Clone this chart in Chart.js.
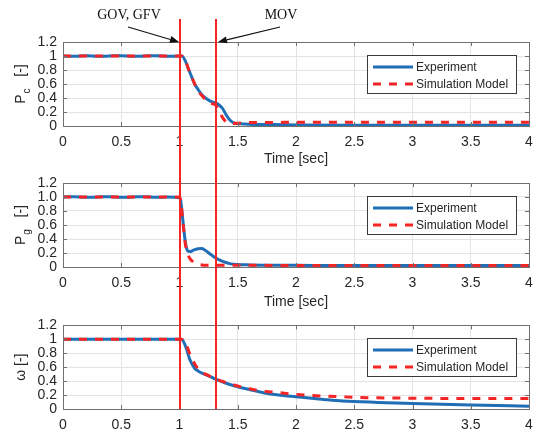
<!DOCTYPE html>
<html>
<head>
<meta charset="utf-8">
<script src="https://cdn.jsdelivr.net/npm/chart.js@4.4.1/dist/chart.umd.min.js"></script>
<style>
  body { margin: 0; background: #fff; }
  #wrap { position: relative; width: 537px; height: 435px; }
  canvas { position: absolute; left: 0; }
</style>
</head>
<body>
<div id="wrap">
  <canvas id="c1" width="537" height="168" style="top:0px"></canvas>
  <canvas id="c2" width="537" height="143" style="top:168px"></canvas>
  <canvas id="c3" width="537" height="124" style="top:311px"></canvas>
  <canvas id="overlay" width="537" height="435" style="top:0px"></canvas>
</div>
<script>
// ticks and labels
const xTicks = [0, 0.5, 1, 1.5, 2, 2.5, 3, 3.5, 4];
const yTicks = [0, 0.2, 0.4, 0.6, 0.8, 1.0, 1.2];
const seriesNames = ['Experiment', 'Simulation Model'];
const eventTimes = [1.0, 1.31];
const eventLabels = ['GOV, GFV', 'MOV'];

// P_c
const pcTime = [0, 0.1, 0.2, 0.3, 0.4, 0.5, 0.6, 0.7, 0.8, 0.9, 1.0, 1.02, 1.05, 1.08, 1.1, 1.13, 1.16, 1.2, 1.24, 1.28, 1.31, 1.34, 1.37, 1.4, 1.43, 1.46, 1.5, 1.55, 1.6, 1.7, 1.8, 2.0, 2.5, 3.0, 3.5, 4.0];
const pcExp = [1.0, 0.995, 1.005, 0.995, 1.0, 1.005, 0.995, 1.0, 1.005, 0.995, 1.0, 1.0, 0.93, 0.80, 0.72, 0.60, 0.52, 0.43, 0.38, 0.345, 0.33, 0.30, 0.25, 0.16, 0.09, 0.05, 0.035, 0.03, 0.025, 0.02, 0.02, 0.015, 0.01, 0.01, 0.01, 0.01];
const pcSim = [1, 1, 1, 1, 1, 1, 1, 1, 1, 1, 1.0, 1.0, 0.94, 0.80, 0.72, 0.60, 0.50, 0.42, 0.35, 0.32, 0.30, 0.22, 0.12, 0.06, 0.035, 0.035, 0.04, 0.045, 0.05, 0.05, 0.05, 0.055, 0.055, 0.055, 0.055, 0.055];

// P_g
const pgTime = [0, 0.1, 0.2, 0.3, 0.4, 0.5, 0.6, 0.7, 0.8, 0.9, 1.0, 1.01, 1.03, 1.05, 1.07, 1.09, 1.12, 1.16, 1.19, 1.22, 1.26, 1.3, 1.37, 1.44, 1.5, 1.6, 2.0, 2.5, 3.0, 3.5, 4.0];
const pgExp = [1.0, 1.005, 0.995, 1.0, 1.005, 0.995, 1.0, 1.005, 0.995, 1.0, 0.99, 0.95, 0.65, 0.36, 0.23, 0.22, 0.24, 0.26, 0.265, 0.24, 0.19, 0.14, 0.08, 0.045, 0.035, 0.03, 0.025, 0.02, 0.02, 0.02, 0.02];
const pgSim = [1, 1, 1, 1, 1, 1, 1, 1, 1, 1, 1.0, 0.95, 0.63, 0.33, 0.19, 0.12, 0.07, 0.04, 0.03, 0.025, 0.025, 0.025, 0.025, 0.025, 0.025, 0.025, 0.02, 0.02, 0.02, 0.02, 0.02];

// omega
const wTime = [0, 0.5, 1.0, 1.015, 1.03, 1.057, 1.086, 1.1, 1.13, 1.157, 1.186, 1.25, 1.3, 1.4, 1.5, 1.6, 1.73, 1.85, 2.0, 2.24, 2.4, 2.7, 3.0, 3.5, 4.0];
const wExp = [1, 1, 1, 1.0, 0.98, 0.88, 0.72, 0.67, 0.585, 0.55, 0.52, 0.475, 0.435, 0.37, 0.32, 0.28, 0.23, 0.2, 0.175, 0.137, 0.115, 0.095, 0.08, 0.057, 0.04];
const wSim = [1, 1, 1, 1.0, 0.99, 0.93, 0.80, 0.74, 0.65, 0.58, 0.53, 0.48, 0.44, 0.38, 0.33, 0.29, 0.255, 0.235, 0.21, 0.185, 0.175, 0.16, 0.155, 0.15, 0.15];

const FONT = "'Liberation Sans', Arial, sans-serif";
const SERIF = "'Liberation Serif', 'Times New Roman', serif";
const BLUE = '#1f6eb6';
const RED = '#f52525';
const AXIS = '#707070';
const GRID = '#e4e4e4';
const TEXT = '#262626';

Chart.defaults.font.family = FONT;
Chart.defaults.color = TEXT;

// box, inner ticks, legend and y label (with subscript)
const framePlugin = {
  id: 'frame',
  afterDraw(chart, args, opts) {
    const { ctx, chartArea: a, scales } = chart;
    ctx.save();
    ctx.strokeStyle = AXIS;
    ctx.lineWidth = 1;
    ctx.beginPath();
    scales.x.ticks.forEach(t => {
      const px = Math.round(scales.x.getPixelForValue(t.value)) + 0.5;
      ctx.moveTo(px, a.bottom); ctx.lineTo(px, a.bottom - 4);
      ctx.moveTo(px, a.top); ctx.lineTo(px, a.top + 4);
    });
    scales.y.ticks.forEach(t => {
      const py = Math.round(scales.y.getPixelForValue(t.value)) + 0.5;
      ctx.moveTo(a.left, py); ctx.lineTo(a.left + 4, py);
      ctx.moveTo(a.right, py); ctx.lineTo(a.right - 4, py);
    });
    ctx.stroke();
    ctx.strokeRect(Math.round(a.left) + 0.5, Math.round(a.top) + 0.5, Math.round(a.width), Math.round(a.height));

    // legend
    const lx = Math.round(a.right) - 162, ly = Math.round(a.top) + 13, lw = 149, lh = 38;
    ctx.fillStyle = '#fff';
    ctx.fillRect(lx, ly, lw, lh);
    ctx.strokeStyle = '#3a3a3a';
    ctx.strokeRect(lx + 0.5, ly + 0.5, lw, lh);
    ctx.font = '12px ' + FONT;
    ctx.textBaseline = 'middle';
    ctx.textAlign = 'left';
    chart.data.datasets.forEach((ds, i) => {
      const y = ly + 12 + i * 17;
      ctx.strokeStyle = ds.borderColor;
      ctx.lineWidth = 3;
      ctx.setLineDash(ds.borderDash || []);
      ctx.beginPath();
      ctx.moveTo(lx + 6, y); ctx.lineTo(lx + 46, y);
      ctx.stroke();
      ctx.setLineDash([]);
      ctx.fillStyle = TEXT;
      ctx.fillText(ds.label, lx + 49, y + 0.5);
    });

    // y title
    ctx.translate(25, (a.top + a.bottom) / 2);
    ctx.rotate(-Math.PI / 2);
    ctx.fillStyle = TEXT;
    ctx.textBaseline = 'alphabetic';
    const tail = opts.sub ? '   [-]' : ' [-]';
    ctx.font = '14px ' + FONT;
    const w1 = ctx.measureText(opts.main).width;
    const w3 = ctx.measureText(tail).width;
    ctx.font = '10px ' + FONT;
    const w2 = opts.sub ? ctx.measureText(opts.sub).width + 1 : 0;
    let x = -(w1 + w2 + w3) / 2;
    ctx.font = '14px ' + FONT;
    ctx.fillText(opts.main, x, 0);
    x += w1;
    if (opts.sub) {
      ctx.font = '10px ' + FONT;
      ctx.fillText(opts.sub, x + 1, 5);
      x += w2;
    }
    ctx.font = '14px ' + FONT;
    ctx.fillText(tail, x, 0);
    ctx.restore();
  }
};

const fmt = v => String(Math.round(v * 10) / 10);
const fmtOne = v => (v === 1 ? '1.0' : fmt(v));

function makeChart(id, time, exp, sim, padTop, xHeight, yMain, ySub, yFmt, showXTitle) {
  return new Chart(document.getElementById(id), {
    type: 'line',
    data: {
      datasets: [
        {
          label: seriesNames[0],
          data: time.map((t, i) => ({ x: t, y: exp[i] })),
          borderColor: BLUE,
          borderWidth: 3,
          pointRadius: 0,
          cubicInterpolationMode: 'monotone',
          order: 1
        },
        {
          label: seriesNames[1],
          data: time.map((t, i) => ({ x: t, y: sim[i] })),
          borderColor: RED,
          borderWidth: 3,
          borderDash: [8, 8],
          pointRadius: 0,
          cubicInterpolationMode: 'monotone',
          order: 0
        }
      ]
    },
    options: {
      responsive: false,
      animation: false,
      events: [],
      layout: { padding: { top: padTop, right: 8, left: 0, bottom: 0 } },
      plugins: {
        legend: { display: false },
        tooltip: { enabled: false },
        frame: { main: yMain, sub: ySub }
      },
      scales: {
        x: {
          type: 'linear',
          min: 0,
          max: 4,
          afterBuildTicks: s => { s.ticks = xTicks.map(v => ({ value: v })); },
          afterFit: s => { s.height = xHeight; s.paddingLeft = 0; s.paddingRight = 0; },
          grid: { color: GRID, drawTicks: false },
          border: { display: false },
          ticks: { padding: 8, font: { size: 14 }, maxRotation: 0, autoSkip: false, callback: v => String(v) },
          title: { display: showXTitle, text: 'Time [sec]', font: { size: 14 }, padding: { top: 0, bottom: 0 } }
        },
        y: {
          min: 0,
          max: 1.2,
          afterBuildTicks: s => { s.ticks = yTicks.map(v => ({ value: v })); },
          afterFit: s => { s.width = 63; },
          grid: { color: GRID, drawTicks: false },
          border: { display: false },
          ticks: { padding: 6, font: { size: 14 }, autoSkip: false, callback: yFmt }
        }
      }
    },
    plugins: [framePlugin]
  });
}

const chart1 = makeChart('c1', pcTime, pcExp, pcSim, 42, 42, 'P', 'c', fmt, true);
const chart2 = makeChart('c2', pgTime, pgExp, pgSim, 15, 44, 'P', 'g', fmtOne, true);
const chart3 = makeChart('c3', wTime, wExp, wSim, 13, 26, '\u03c9', '', fmt, false);

// event lines and arrows across all three panels
const ov = document.getElementById('overlay').getContext('2d');
const c3Top = 311;
const bottomY = c3Top + chart3.chartArea.bottom;
const topArrowY = chart1.chartArea.top;
const labelPos = [[129, 15], [281, 15]];
const arrowTail = [[128, 27], [280, 27]];

eventTimes.forEach((t, i) => {
  const px = Math.round(chart1.scales.x.getPixelForValue(t));
  ov.strokeStyle = RED;
  ov.lineWidth = 2;
  ov.beginPath();
  ov.moveTo(px, 19);
  ov.lineTo(px, bottomY);
  ov.stroke();

  // label
  ov.fillStyle = '#111';
  ov.font = '14px ' + SERIF;
  ov.textAlign = 'center';
  ov.textBaseline = 'middle';
  ov.fillText(eventLabels[i], labelPos[i][0], labelPos[i][1]);

  // arrow
  const tipX = i === 0 ? px - 1 : px + 2;
  const tipY = topArrowY;
  const [sx, sy] = arrowTail[i];
  const ang = Math.atan2(tipY - sy, tipX - sx);
  const hl = 9, hw = 3.5;
  const bx = tipX - hl * Math.cos(ang), by = tipY - hl * Math.sin(ang);
  ov.strokeStyle = '#111';
  ov.lineWidth = 1.2;
  ov.beginPath();
  ov.moveTo(sx, sy);
  ov.lineTo(bx, by);
  ov.stroke();
  ov.fillStyle = '#111';
  ov.beginPath();
  ov.moveTo(tipX, tipY);
  ov.lineTo(bx + hw * Math.sin(ang), by - hw * Math.cos(ang));
  ov.lineTo(bx - hw * Math.sin(ang), by + hw * Math.cos(ang));
  ov.closePath();
  ov.fill();
});
</script>
</body>
</html>
